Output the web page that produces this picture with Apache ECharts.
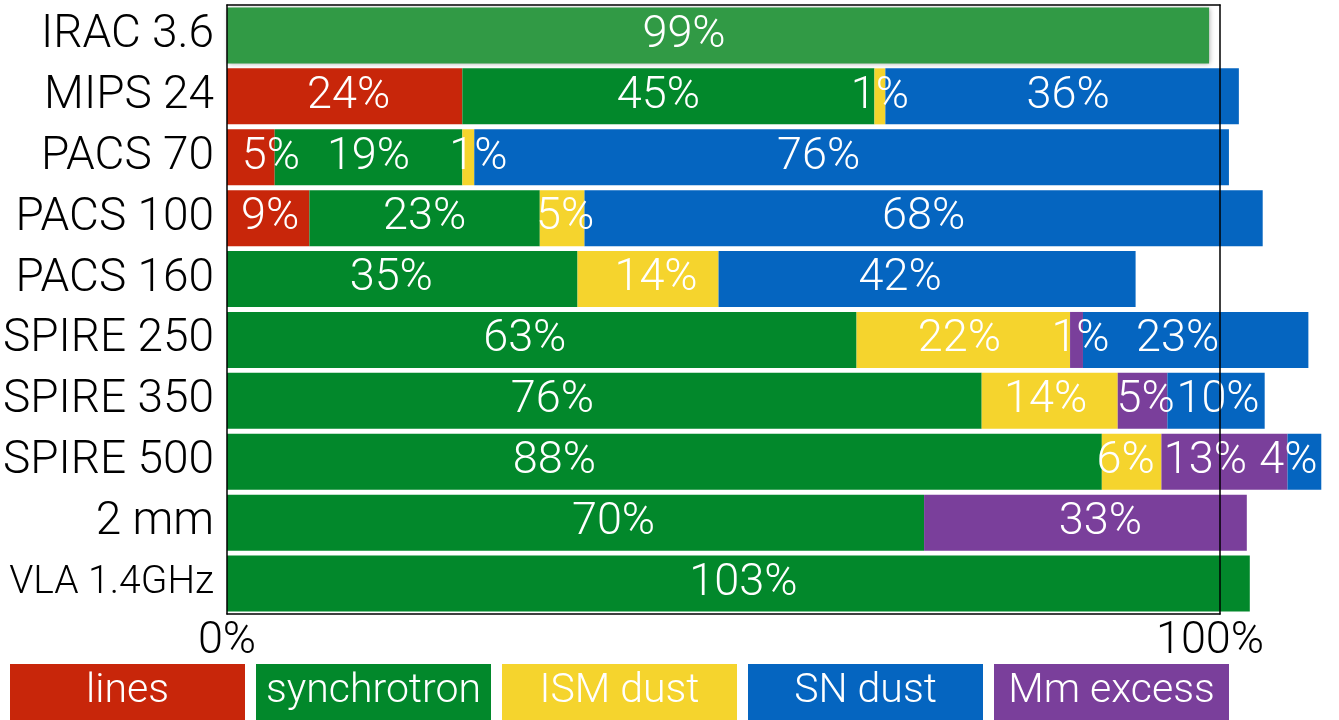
<!DOCTYPE html>
<html>
<head>
<meta charset="utf-8">
<script src="https://cdn.jsdelivr.net/npm/echarts@6/dist/echarts.min.js"></script>
<style>
html,body{margin:0;padding:0;background:#fff;}
#chart{width:1339px;height:720px;}
</style>
</head>
<body>
<div id="chart"></div>
<script>
// ---- data ----
var categories = ['IRAC 3.6','MIPS 24','PACS 70','PACS 100','PACS 160','SPIRE 250','SPIRE 350','SPIRE 500','2 mm','VLA 1.4GHz'];
var seriesNames = ['lines','synchrotron','ISM dust','SN dust','Mm excess'];
var linesVals   = [0, 23.7, 4.8, 8.3, 0, 0, 0, 0, 0, 0];
var synchVals   = [98.9, 41.5, 18.9, 23.2, 35.3, 63.4, 76.0, 88.1, 70.2, 103.0];
var ismVals     = [0, 1.1, 1.2, 4.5, 14.2, 21.5, 13.7, 6.0, 0, 0];
var snVals      = [0, 35.6, 76.0, 68.3, 42.0, 22.7, 9.8, 3.4, 0, 0];
var mmVals      = [0, 0, 0, 0, 0, 1.3, 5.0, 12.7, 32.5, 0];
var linesLabels = ['', '24%', '5%', '9%', '', '', '', '', '', ''];
var synchLabels = ['99%','45%','19%','23%','35%','63%','76%','88%','70%','103%'];
var ismLabels   = ['', '1%', '1%', '5%', '14%', '22%', '14%', '6%', '', ''];
var snLabels    = ['', '36%', '76%', '68%', '42%', '23%', '10%', '4%', '', ''];
var mmLabels    = ['', '', '', '', '', '1%', '5%', '13%', '33%', ''];
var xTickLabels = ['0%', '100%'];

// ---- style ----
var FONT = 'Roboto, "Helvetica Neue", Arial, sans-serif';
var colors = {
  'lines': '#c8260a',
  'synchrotron': '#02882b',
  'ISM dust': '#f5d42d',
  'SN dust': '#0565c0',
  'Mm excess': '#7a3f9b'
};
var iracGreen = '#319a45';
// label horizontal nudges (style only)
var labelShift = {
  'lines':       [0, 4, 20, 2, 0, 0, 0, 0, 0, 0],
  'synchrotron': [-34, -10, 0, 0, -11, -17, -52, -110, 38, 5],
  'ISM dust':    [0, 0, 10, 3, 8, -4, -4, -6, 0, 0],
  'SN dust':     [0, 6, -33, 0, -27, -18, 2, -16, 0, 0],
  'Mm excess':   [0, 0, 0, 0, 0, 4, 3, -19, 15, 0]
};

var stackDefs = [
  {name: 'lines', vals: linesVals, labels: linesLabels},
  {name: 'synchrotron', vals: synchVals, labels: synchLabels},
  {name: 'ISM dust', vals: ismVals, labels: ismLabels},
  {name: 'Mm excess', vals: mmVals, labels: mmLabels},
  {name: 'SN dust', vals: snVals, labels: snLabels}
];

var series = stackDefs.map(function (d) {
  return {
    name: d.name,
    type: 'bar',
    stack: 'all',
    barWidth: 56,
    clip: false,
    z: 2,
    itemStyle: {color: colors[d.name]},
    label: {
      show: true,
      position: 'inside',
      color: '#fff',
      fontFamily: FONT,
      fontWeight: 300,
      fontSize: 45,
      formatter: function (p) { return d.labels[p.dataIndex]; }
    },
    data: d.vals.map(function (v, i) {
      var item = {value: v, label: {offset: [labelShift[d.name][i], 0]}};
      if (d.name === 'synchrotron' && i === 0) {
        item.itemStyle = {color: iracGreen, shadowBlur: 5, shadowColor: 'rgba(0,0,0,0.35)', shadowOffsetX: 1, shadowOffsetY: 1};
      }
      return item;
    })
  };
});

var richLegend = {};
seriesNames.forEach(function (n, i) {
  richLegend['s' + i] = {
    width: 235, height: 56, lineHeight: 56, align: 'center',
    backgroundColor: colors[n], color: '#fff',
    fontFamily: FONT, fontWeight: 300, fontSize: 41
  };
});

var chart = echarts.init(document.getElementById('chart'));
chart.setOption({
  animation: false,
  backgroundColor: '#fff',
  grid: {left: 226, right: 119, top: 5, bottom: 106, containLabel: false},
  legend: {
    data: seriesNames,
    orient: 'horizontal',
    left: 5, top: 664,
    padding: 0,
    itemGap: 6,
    itemWidth: 0, itemHeight: 0,
    icon: 'rect',
    selectedMode: false,
    formatter: function (n) { return '{s' + seriesNames.indexOf(n) + '|' + n + '}'; },
    textStyle: {rich: richLegend}
  },
  xAxis: [{
    type: 'value', min: 0, max: 100, interval: 100, position: 'bottom', z: 10,
    axisLine: {show: true, onZero: false, lineStyle: {color: '#000', width: 1.5}},
    axisTick: {show: false}, splitLine: {show: false},
    axisLabel: {
      margin: 5, color: '#000', fontFamily: FONT, fontWeight: 300, fontSize: 45,
      formatter: function (v) { return v === 0 ? '{a|' + xTickLabels[0] + '}' : '{b|' + xTickLabels[1] + '}'; },
      rich: {
        a: {fontFamily: FONT, fontWeight: 300, fontSize: 45, color: '#000'},
        b: {fontFamily: FONT, fontWeight: 300, fontSize: 45, color: '#000', padding: [0, 20, 0, 0]}
      }
    }
  }, {
    type: 'value', min: 0, max: 100, interval: 100, position: 'top', z: 10,
    axisLine: {show: true, onZero: false, lineStyle: {color: '#000', width: 1.5}},
    axisTick: {show: false}, splitLine: {show: false}, axisLabel: {show: false}
  }],
  yAxis: [{
    type: 'category', data: categories, inverse: true, position: 'left', z: 10,
    axisLine: {show: true, onZero: false, lineStyle: {color: '#000', width: 1.5}},
    axisTick: {show: false}, splitLine: {show: false},
    axisLabel: {
      margin: 13, color: '#000', fontFamily: FONT, fontWeight: 300, fontSize: 46,
      formatter: function (v) { return v === 'VLA 1.4GHz' ? '{s|' + v + '}' : v; },
      rich: {s: {fontSize: 39, fontFamily: FONT, fontWeight: 300, color: '#000'}}
    }
  }, {
    type: 'category', data: categories, inverse: true, position: 'right', z: 10,
    axisLine: {show: true, onZero: false, lineStyle: {color: '#000', width: 1.5}},
    axisTick: {show: false}, splitLine: {show: false}, axisLabel: {show: false}
  }],
  series: series
});
</script>
</body>
</html>
